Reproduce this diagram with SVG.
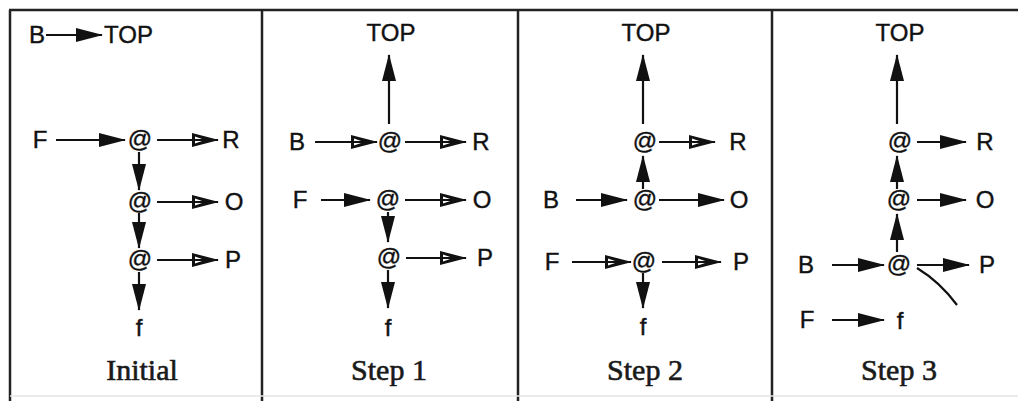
<svg xmlns="http://www.w3.org/2000/svg" width="1021" height="401" viewBox="0 0 1021 401">
<style>
.lb{font-family:"Liberation Sans",Arial,sans-serif;font-size:24px;fill:#111;text-anchor:middle;stroke:#111;stroke-width:0.4}
.tl{font-family:"Liberation Sans",Arial,sans-serif;font-size:24px;fill:#111;stroke:#111;stroke-width:0.4}
.cap{font-family:"Liberation Serif","Times New Roman",serif;font-size:30px;fill:#1a1a1a;text-anchor:middle;stroke:#1a1a1a;stroke-width:0.6}
.e{stroke:#111;stroke-width:2.2;fill:none}
.f{marker-end:url(#fh)}
.h{marker-end:url(#hh)}
.frame{stroke:#222;stroke-width:2.5;fill:none}
</style>
<defs>
<marker id="fh" markerUnits="userSpaceOnUse" viewBox="0 -7 27 14" refX="26" refY="0" markerWidth="27" markerHeight="14" orient="auto">
<path d="M0,-7 L27,0 L0,7 Z" fill="#111"/>
</marker>
<marker id="hh" markerUnits="userSpaceOnUse" viewBox="0 -7 27 14" refX="26" refY="0" markerWidth="27" markerHeight="14" orient="auto">
<path d="M0,-7 L27,0 L0,7 Z M3,-3.5 L3,3.5 L13,0 Z" fill="#111" fill-rule="evenodd"/>
</marker>
</defs>
<rect width="1021" height="401" fill="#fff"/>
<g id="frame">
<line class="frame" x1="9" y1="10" x2="1018" y2="10"/>
<line class="frame" x1="10" y1="10" x2="10" y2="401"/>
<line class="frame" x1="262" y1="10" x2="262" y2="401"/>
<line class="frame" x1="518" y1="10" x2="518" y2="401"/>
<line class="frame" x1="772" y1="10" x2="772" y2="401"/>
<line x1="10" y1="396" x2="1018" y2="396" stroke="#e4e4e4" stroke-width="1.5"/>
</g>
<g id="connectors">
<line class="e f" x1="46" y1="35" x2="102" y2="35"/>
<line class="e f" x1="56" y1="140" x2="125" y2="140"/>
<line class="e h" x1="157" y1="140" x2="218" y2="140"/>
<line class="e f" x1="139" y1="152" x2="139" y2="190"/>
<line class="e h" x1="157" y1="202" x2="218" y2="202"/>
<line class="e f" x1="139" y1="213" x2="139" y2="248"/>
<line class="e h" x1="157" y1="260" x2="218" y2="260"/>
<line class="e f" x1="139" y1="272" x2="139" y2="310"/>
<line class="e f" x1="389" y1="124" x2="389" y2="55"/>
<line class="e h" x1="315" y1="142" x2="377" y2="142"/>
<line class="e h" x1="405" y1="142" x2="466" y2="142"/>
<line class="e f" x1="321" y1="200" x2="370" y2="200"/>
<line class="e h" x1="405" y1="200" x2="466" y2="200"/>
<line class="e f" x1="388" y1="212" x2="388" y2="242"/>
<line class="e h" x1="406" y1="258" x2="466" y2="258"/>
<line class="e f" x1="388" y1="270" x2="388" y2="308"/>
<line class="e f" x1="643" y1="124" x2="643" y2="55"/>
<line class="e h" x1="659" y1="142" x2="715" y2="142"/>
<line class="e f" x1="643" y1="189" x2="643" y2="156"/>
<line class="e f" x1="576" y1="200" x2="627" y2="200"/>
<line class="e f" x1="659" y1="200" x2="724" y2="200"/>
<line class="e h" x1="572" y1="262" x2="631" y2="262"/>
<line class="e h" x1="662" y1="262" x2="721" y2="262"/>
<line class="e f" x1="643" y1="273" x2="643" y2="308"/>
<line class="e f" x1="897" y1="124" x2="897" y2="55"/>
<line class="e f" x1="917" y1="142" x2="966" y2="142"/>
<line class="e f" x1="897" y1="189" x2="897" y2="156"/>
<line class="e f" x1="917" y1="200" x2="966" y2="200"/>
<line class="e f" x1="897" y1="252" x2="897" y2="214"/>
<line class="e f" x1="832" y1="265" x2="884" y2="265"/>
<line class="e f" x1="917" y1="265" x2="969" y2="265"/>
<path class="e" d="M917,268 Q940,282 957,305"/>
<line class="e f" x1="832" y1="320" x2="884" y2="320"/>
</g>
<g id="p1-B"><text class="lb" x="37" y="43">B</text></g>
<g id="p1-TOP"><text class="tl" x="104" y="43">TOP</text></g>
<g id="p1-F"><text class="lb" x="40" y="148">F</text></g>
<g id="p1-a1"><text class="lb" x="140" y="147">@</text></g>
<g id="p1-R"><text class="lb" x="231" y="148">R</text></g>
<g id="p1-a2"><text class="lb" x="140" y="209">@</text></g>
<g id="p1-O"><text class="lb" x="234" y="210">O</text></g>
<g id="p1-a3"><text class="lb" x="140" y="267">@</text></g>
<g id="p1-P"><text class="lb" x="233" y="268">P</text></g>
<g id="p1-f"><text class="lb" x="139" y="336">f</text></g>
<g id="p1-cap"><text class="cap" x="142" y="380">Initial</text></g>
<g id="p2-TOP"><text class="lb" x="391" y="41">TOP</text></g>
<g id="p2-B"><text class="lb" x="297" y="150">B</text></g>
<g id="p2-a1"><text class="lb" x="390" y="149">@</text></g>
<g id="p2-R"><text class="lb" x="481" y="150">R</text></g>
<g id="p2-F"><text class="lb" x="300" y="208">F</text></g>
<g id="p2-a2"><text class="lb" x="388" y="207">@</text></g>
<g id="p2-O"><text class="lb" x="482" y="208">O</text></g>
<g id="p2-a3"><text class="lb" x="389" y="265">@</text></g>
<g id="p2-P"><text class="lb" x="485" y="266">P</text></g>
<g id="p2-f"><text class="lb" x="388" y="336">f</text></g>
<g id="p2-cap"><text class="cap" x="389" y="380">Step 1</text></g>
<g id="p3-TOP"><text class="lb" x="646" y="41">TOP</text></g>
<g id="p3-a1"><text class="lb" x="645" y="149">@</text></g>
<g id="p3-R"><text class="lb" x="738" y="150">R</text></g>
<g id="p3-B"><text class="lb" x="551" y="208">B</text></g>
<g id="p3-a2"><text class="lb" x="645" y="207">@</text></g>
<g id="p3-O"><text class="lb" x="739" y="208">O</text></g>
<g id="p3-F"><text class="lb" x="552" y="270">F</text></g>
<g id="p3-a3"><text class="lb" x="644" y="269">@</text></g>
<g id="p3-P"><text class="lb" x="741" y="270">P</text></g>
<g id="p3-f"><text class="lb" x="643" y="335">f</text></g>
<g id="p3-cap"><text class="cap" x="645" y="380">Step 2</text></g>
<g id="p4-TOP"><text class="lb" x="900" y="41">TOP</text></g>
<g id="p4-a1"><text class="lb" x="900" y="149">@</text></g>
<g id="p4-R"><text class="lb" x="985" y="150">R</text></g>
<g id="p4-a2"><text class="lb" x="899" y="207">@</text></g>
<g id="p4-O"><text class="lb" x="985" y="208">O</text></g>
<g id="p4-B"><text class="lb" x="806" y="273">B</text></g>
<g id="p4-a3"><text class="lb" x="899" y="272">@</text></g>
<g id="p4-P"><text class="lb" x="987" y="273">P</text></g>
<g id="p4-F"><text class="lb" x="807" y="328">F</text></g>
<g id="p4-f"><text class="lb" x="900" y="329">f</text></g>
<g id="p4-cap"><text class="cap" x="899" y="380">Step 3</text></g>
</svg>
